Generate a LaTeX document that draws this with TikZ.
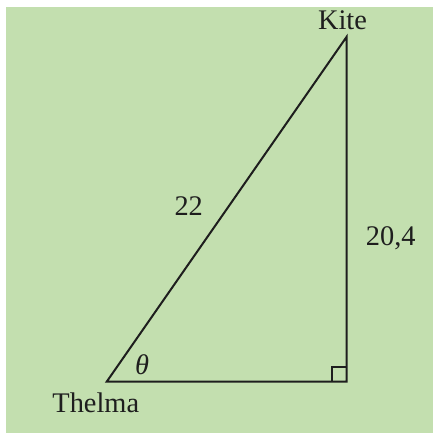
\documentclass[tikz,border=0pt]{standalone}
\usepackage{fontspec}
\setmainfont{Liberation Serif}
\definecolor{bgreen}{RGB}{195,223,175}
\definecolor{ink}{RGB}{30,30,30}
\begin{document}
\begin{tikzpicture}[x=0.5pt,y=-0.5pt,
  lbl/.style={inner sep=0pt,anchor=base,text=ink,font=\fontsize{14.2}{16}\selectfont},
  edge/.style={draw=ink,line width=1pt,line join=miter}]
\useasboundingbox (0,0) rectangle (433,433);
\fill[white] (0,0) rectangle (433,433);
\fill[bgreen] (6,7) rectangle (433,433);
\coordinate (T) at (106.7,381.7);
\coordinate (K) at (346.7,36.7);
\coordinate (R) at (346.7,381.7);
\draw[edge] (T) -- (K) -- (R) -- cycle;
\draw[draw=ink,line width=1pt] ([xshift=-7.5pt]R) |- ([yshift=7.5pt]R);
\node[lbl] (kite) at (342.5,29.5) {Kite};
\node[lbl] (thelma) at (95.8,412.7) {Thelma};
\node[lbl] (hyp) at (188.7,215) {22};
\node[lbl] (opp) at (390.7,245) {20,4};
\node[lbl] (theta) at (142,374) {\textit{θ}};
\end{tikzpicture}
\end{document}
